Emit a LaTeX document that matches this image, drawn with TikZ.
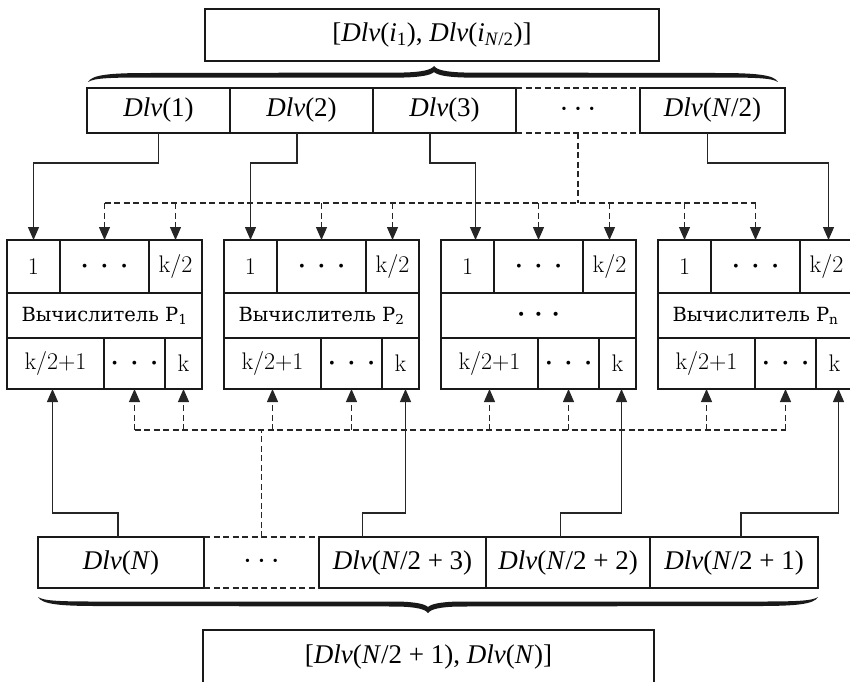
\documentclass[tikz,border=0pt]{standalone}
\usepackage{fontspec}
\newfontfamily\cyr{DejaVu Serif}
\newfontfamily\tms{Liberation Serif}
\usetikzlibrary{arrows.meta,calc}
\newcommand\dlv{\textit{Dlv}}
\newcommand\mydots{{\fontsize{14}{14}\selectfont\textbullet\hspace{9pt}\textbullet\hspace{9pt}\textbullet}}
\tikzset{
  cell/.style={draw=black!90, line width=1.2pt, inner sep=0pt, outer sep=0pt, anchor=north west,
    font=\fontsize{24}{26}\selectfont},
  dcell/.style={cell, font=\tms\fontsize{27}{30}\selectfont},
  ccell/.style={cell, font=\cyr\fontsize{19.5}{22}\selectfont},
  conn/.style={line width=1.2pt, draw=black!85},
  arr/.style={conn, -{Triangle[length=13pt,width=11pt]}},
  dbus/.style={conn, dash pattern=on 6pt off 3.5pt},
  darr/.style={dbus, -{Triangle[length=13pt,width=11pt]}},
}
% heavy brace: #1 left x, #2 right x, #3 tip x, #4 end y, #5 sign (1 = tip up, -1 = tip down)
\newcommand\hbrace[5]{%
  \fill[black!90] (#1,#4) .. controls ({#1+4},{#4-#5*7}) and ({#1+20},{#4-#5*9}) .. ({#1+60},{#4-#5*9})
    -- ({#3-30},{#4-#5*9.5}) .. controls ({#3-12},{#4-#5*10}) and ({#3-3},{#4-#5*12}) .. (#3,{#4-#5*16})
    .. controls ({#3+3},{#4-#5*12}) and ({#3+12},{#4-#5*10}) .. ({#3+30},{#4-#5*9.5})
    -- ({#2-60},{#4-#5*9}) .. controls ({#2-20},{#4-#5*9}) and ({#2-4},{#4-#5*7}) .. (#2,#4)
    .. controls ({#2-6},{#4-#5*4}) and ({#2-22},{#4-#5*4.5}) .. ({#2-60},{#4-#5*4.5})
    -- ({#3+30},{#4-#5*4.5}) .. controls ({#3+12},{#4-#5*5}) and ({#3+3},{#4-#5*7}) .. (#3,{#4-#5*10})
    .. controls ({#3-3},{#4-#5*7}) and ({#3-12},{#4-#5*5}) .. ({#3-30},{#4-#5*4.5})
    -- ({#1+60},{#4-#5*4.5}) .. controls ({#1+22},{#4-#5*4.5}) and ({#1+6},{#4-#5*4}) .. (#1,#4) -- cycle;
}
% processor: #1 name, #2 x, #3 middle text
\newcommand\vproc[3]{%
  \node[cell, minimum width=53pt, minimum height=53pt] (#1a) at (#2,240) {1};
  \node[cell, minimum width=89pt, minimum height=53pt] (#1b) at (#1a.north east) {\mydots};
  \node[cell, minimum width=53pt, minimum height=53pt] (#1c) at (#1b.north east) {k/2};
  \node[ccell, minimum width=195pt, minimum height=45pt] (#1m) at (#1a.south west) {#3};
  \node[cell, minimum width=97pt, minimum height=51pt] (#1d) at (#1m.south west) {k/2+1};
  \node[cell, minimum width=61pt, minimum height=51pt] (#1e) at (#1d.north east) {\mydots};
  \node[cell, minimum width=37pt, minimum height=51pt] (#1f) at (#1e.north east) {k};
}
\begin{document}
\begin{tikzpicture}[x=1pt, y=-1pt]
\useasboundingbox (0,0) rectangle (850,681);

% top box and top row
\node[dcell, minimum width=454pt, minimum height=52pt] (top) at (205,9)
  {[\dlv(\textit{i}\textsubscript{1}), \dlv(\textit{i}\textsubscript{\textit{N}/2})]};
\hbrace{88}{778}{434}{82}{1}
\node[dcell, minimum width=143pt, minimum height=45pt] (t1) at (87,88) {\dlv(1)};
\node[dcell, minimum width=143pt, minimum height=45pt] (t2) at (230,88) {\dlv(2)};
\node[dcell, minimum width=143pt, minimum height=45pt] (t3) at (373,88) {\dlv(3)};
\node[dcell, draw=none, minimum width=124pt, minimum height=45pt] (t4) at (516,88) {\mydots};
\node[dcell, minimum width=145pt, minimum height=45pt] (t5) at (640,88) {\dlv(\textit{N}/2)};
\draw[dbus] (t4.north west) -- (t4.north east) (t4.south west) -- (t4.south east);

% processors
\vproc{p1}{7}{Вычислитель P\textsubscript{1}}
\vproc{p2}{224}{Вычислитель P\textsubscript{2}}
\vproc{p3}{441}{\mydots}
\vproc{p4}{658}{Вычислитель P\textsubscript{n}}

% bottom row and bottom box
\node[dcell, minimum width=166pt, minimum height=51pt] (b1) at (38,537) {\dlv(\textit{N})};
\node[dcell, draw=none, minimum width=115pt, minimum height=51pt] (b2) at (204,537) {\mydots};
\node[dcell, minimum width=167pt, minimum height=51pt] (b3) at (319,537) {\dlv(\textit{N}/2 + 3)};
\node[dcell, minimum width=164pt, minimum height=51pt] (b4) at (486,537) {\dlv(\textit{N}/2 + 2)};
\node[dcell, minimum width=168pt, minimum height=51pt] (b5) at (650,537) {\dlv(\textit{N}/2 + 1)};
\draw[dbus] (b2.north west) -- (b2.north east) (b2.south west) -- (b2.south east);
\hbrace{38}{818}{428}{597}{-1}
\node[dcell, minimum width=451pt, minimum height=54pt] (bot) at (203,630)
  {[\dlv(\textit{N}/2 + 1), \dlv(\textit{N})]};

% top solid connectors
\draw[arr] (t1.south) -- ++(0,30) -| (p1a.north);
\draw[arr] ([xshift=-4.5pt]t2.south) -- ++(0,30) -| (p2a.north);
\draw[arr] ([xshift=-14.5pt]t3.south) -- ++(0,30) -| ([xshift=8pt]p3a.north);
\draw[arr] ([xshift=-5pt]t5.south) -- ++(0,30) -| ([xshift=2pt]p4c.north);

% top dashed bus
\coordinate (tb) at (0,203);
\draw[dbus] (t4.south) -- (t4.south |- tb);
\draw[dbus] (p1b.north |- tb) -- (p4b.north |- tb);
\foreach \c in {p1b,p1c,p2b,p2c,p3b,p3c,p4a,p4b}
  \draw[darr] (\c.north |- tb) -- (\c.north);

% bottom dashed bus
\coordinate (bb) at (0,430);
\draw[dbus] (b2.north) -- (b2.north |- bb);
\draw[dbus] (p1e.south |- bb) -- (p4e.south |- bb);
\foreach \c in {p1e,p1f,p2d,p2e,p3d,p3e,p4d,p4e}
  \draw[darr] (\c.south |- bb) -- (\c.south);

% bottom solid connectors
\draw[arr] ([xshift=-3pt]b1.north) -- ++(0,-24) -| ([xshift=-3pt]p1d.south);
\draw[arr] ([xshift=-40pt]b3.north) -- ++(0,-24) -| ([xshift=5pt]p2f.south);
\draw[arr] ([xshift=-7.5pt]b4.north) -- ++(0,-24) -| ([xshift=4pt]p3f.south);
\draw[arr] ([xshift=7pt]b5.north) -- ++(0,-24) -| ([xshift=4pt]p4f.south);
\end{tikzpicture}
\end{document}
